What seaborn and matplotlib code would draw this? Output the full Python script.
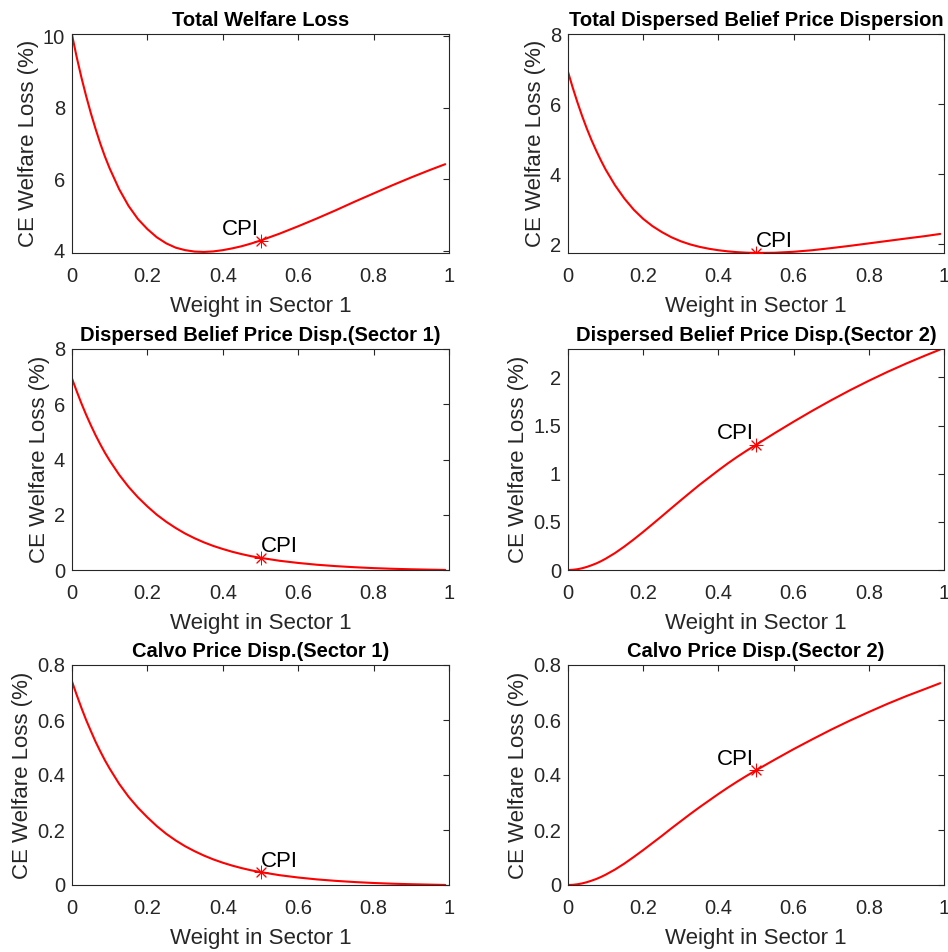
import matplotlib
matplotlib.use("Agg")
import matplotlib.pyplot as plt
import seaborn as sns
import numpy as np
import pandas as pd
from matplotlib.ticker import FixedLocator, FuncFormatter

# ---------------- data ----------------
weight = [0, 0.0125, 0.025, 0.0375, 0.05, 0.0625, 0.075, 0.0875, 0.1,
          0.125, 0.15, 0.175, 0.2, 0.225, 0.25, 0.275, 0.3, 0.325, 0.35, 0.375,
          0.4, 0.425, 0.45, 0.475, 0.5,
          0.55, 0.6, 0.65, 0.7, 0.75, 0.8, 0.85, 0.9, 0.95, 0.99]

total_welfare = [10.05, 9.42, 8.85, 8.33, 7.85, 7.41, 7.0, 6.63, 6.3,
                 5.72, 5.25, 4.88, 4.6, 4.37, 4.20, 4.08, 4.01, 3.97, 3.96, 3.975,
                 4.01, 4.06, 4.12, 4.195, 4.28,
                 4.47, 4.68, 4.9, 5.13, 5.37, 5.6, 5.83, 6.05, 6.26, 6.42]

total_db_disp = [6.92, 6.47, 6.05, 5.66, 5.3, 4.97, 4.67, 4.39, 4.13,
                 3.68, 3.30, 2.98, 2.72, 2.51, 2.34, 2.195, 2.08, 1.99, 1.92, 1.866,
                 1.824, 1.792, 1.769, 1.754, 1.747,
                 1.752, 1.78, 1.825, 1.885, 1.95, 2.02, 2.09, 2.16, 2.228, 2.29]

db_disp_s1 = [6.93, 6.47, 6.03, 5.62, 5.24, 4.88, 4.55, 4.24, 3.96,
              3.45, 3.01, 2.63, 2.30, 2.00, 1.745, 1.52, 1.32, 1.15, 1.0, 0.87,
              0.76, 0.66, 0.575, 0.50, 0.44,
              0.335, 0.255, 0.19, 0.14, 0.10, 0.068, 0.044, 0.026, 0.012, 0.002]

db_disp_s2 = [0, 0.002, 0.008, 0.018, 0.032, 0.049, 0.068, 0.091, 0.117,
              0.176, 0.244, 0.318, 0.396, 0.477, 0.559, 0.642, 0.724, 0.805, 0.885, 0.96,
              1.035, 1.107, 1.175, 1.239, 1.30,
              1.422, 1.54, 1.654, 1.763, 1.867, 1.965, 2.058, 2.145, 2.227, 2.29]

calvo_s1 = [0.74, 0.691, 0.644, 0.600, 0.560, 0.521, 0.486, 0.453, 0.423,
            0.368, 0.321, 0.281, 0.246, 0.214, 0.186, 0.162, 0.141, 0.123, 0.107, 0.093,
            0.081, 0.0705, 0.0614, 0.0534, 0.047,
            0.0358, 0.0272, 0.0203, 0.015, 0.0107, 0.0073, 0.0047, 0.0028, 0.0013, 0.0002]

calvo_s2 = [0, 0.0006, 0.0026, 0.0058, 0.0102, 0.0157, 0.0218, 0.0291, 0.0374,
            0.0563, 0.078, 0.102, 0.127, 0.153, 0.179, 0.206, 0.232, 0.258, 0.283, 0.307,
            0.331, 0.354, 0.376, 0.397, 0.417,
            0.456, 0.494, 0.530, 0.565, 0.598, 0.629, 0.659, 0.687, 0.713, 0.734]

cpi_weight = 0.5

titles = ["Total Welfare Loss",
          "Total Dispersed Belief Price Dispersion",
          "Dispersed Belief Price Disp.(Sector 1)",
          "Dispersed Belief Price Disp.(Sector 2)",
          "Calvo Price Disp.(Sector 1)",
          "Calvo Price Disp.(Sector 2)"]
series = [total_welfare, total_db_disp, db_disp_s1, db_disp_s2, calvo_s1, calvo_s2]
x_ticks = [0, 0.2, 0.4, 0.6, 0.8, 1]
y_ticks = [[4, 6, 8, 10], [2, 4, 6, 8], [0, 2, 4, 6, 8],
           [0, 0.5, 1, 1.5, 2], [0, 0.2, 0.4, 0.6, 0.8], [0, 0.2, 0.4, 0.6, 0.8]]
y_lims = [(3.93, 10.07), (1.745, 8), (0, 8), (0, 2.295), (0, 0.8), (0, 0.8)]
cpi_align = ["right", "left", "left", "right", "left", "right"]
x_label = "Weight in Sector 1"
y_label = "CE Welfare Loss (%)"
cpi_label = "CPI"

# ---------------- style ----------------
sns.set_theme(style="white")
plt.rcParams["font.family"] = ["Liberation Sans", "DejaVu Sans"]
axcol = "#262626"

W, H = 948, 952
fig = plt.figure(figsize=(W / 100, H / 100), dpi=100)

col_left = [72, 568]
col_w = [377, 376]
row_top = [34, 349, 665]
row_bot = [253, 570, 885]

fmt = FuncFormatter(lambda v, p: "%g" % v)

for i in range(6):
    r, c = divmod(i, 2)
    ax = fig.add_axes([col_left[c] / W, 1 - row_bot[r] / H,
                       col_w[c] / W, (row_bot[r] - row_top[r]) / H])
    df = pd.DataFrame({"w": weight, "v": series[i]})
    sns.lineplot(data=df, x="w", y="v", ax=ax, color="#ff0000", linewidth=1.5)
    idx = weight.index(cpi_weight)
    cy = series[i][idx]
    sns.scatterplot(x=[cpi_weight], y=[cy], ax=ax, marker=(8, 2, 0), s=85,
                    color="#ff0000", edgecolor="#ff0000", linewidth=0.7, zorder=5)
    dx = -1.5 if cpi_align[i] == "right" else 0
    ax.annotate(cpi_label, (cpi_weight, cy), xytext=(dx, 4), textcoords="offset points",
                ha=cpi_align[i], va="baseline", fontsize=16, color="black")
    ax.set_xlim(0, 1)
    ax.set_ylim(*y_lims[i])
    ax.xaxis.set_major_locator(FixedLocator(x_ticks))
    ax.yaxis.set_major_locator(FixedLocator(y_ticks[i]))
    ax.xaxis.set_major_formatter(fmt)
    ax.yaxis.set_major_formatter(fmt)
    ax.tick_params(direction="in", length=4, width=0.8, colors=axcol,
                   top=True, right=True, labelsize=14.5)
    ax.tick_params(axis="x", pad=10)
    ax.tick_params(axis="y", pad=5)
    for sp in ax.spines.values():
        sp.set_color(axcol)
        sp.set_linewidth(0.8)
        sp.set_visible(True)
    ax.set_xlabel(x_label, fontsize=16, color=axcol, labelpad=7)
    ax.set_ylabel(y_label, fontsize=16, color=axcol, labelpad=3)
    ax.set_title(titles[i], fontsize=14.5, fontweight="bold", color="black", pad=6)
    ax.grid(False)

fig.savefig("out.png", dpi=100)
